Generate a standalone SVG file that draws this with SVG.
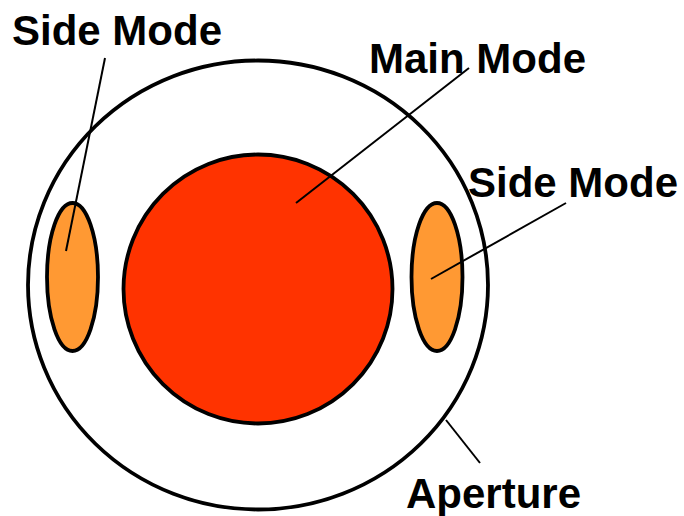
<svg xmlns="http://www.w3.org/2000/svg" width="684" height="516" viewBox="0 0 684 516">
<style>
.shape{stroke:#000;stroke-width:3.8}
.lead{stroke:#000;stroke-width:2;fill:none}
.lbl{font-family:"Liberation Sans",Arial,sans-serif;font-weight:bold;font-size:42px;fill:#000}
</style>
<rect width="684" height="516" fill="#fff"/>
<g id="aperture">
<ellipse class="shape" cx="258" cy="285" rx="230" ry="224.5" fill="#fff"/>
</g>
<g id="main-mode">
<circle class="shape" cx="258" cy="289" r="134.5" fill="#FF3300"/>
</g>
<g id="side-mode-left">
<ellipse class="shape" cx="72.5" cy="277" rx="25.5" ry="74" fill="#FF9933"/>
</g>
<g id="side-mode-right">
<ellipse class="shape" cx="437" cy="277" rx="25.5" ry="74" fill="#FF9933"/>
</g>
<g id="connectors">
<line class="lead" x1="66" y1="251" x2="105" y2="58"/>
<line class="lead" x1="296" y1="203" x2="469" y2="68"/>
<line class="lead" x1="431" y1="279" x2="566" y2="203"/>
<line class="lead" x1="446" y1="420" x2="480" y2="463"/>
</g>
<g id="labels">
<text class="lbl" x="12" y="45">Side Mode</text>
<text class="lbl" x="369" y="73">Main Mode</text>
<text class="lbl" x="468" y="197">Side Mode</text>
<text class="lbl" x="406" y="508">Aperture</text>
</g>
</svg>
